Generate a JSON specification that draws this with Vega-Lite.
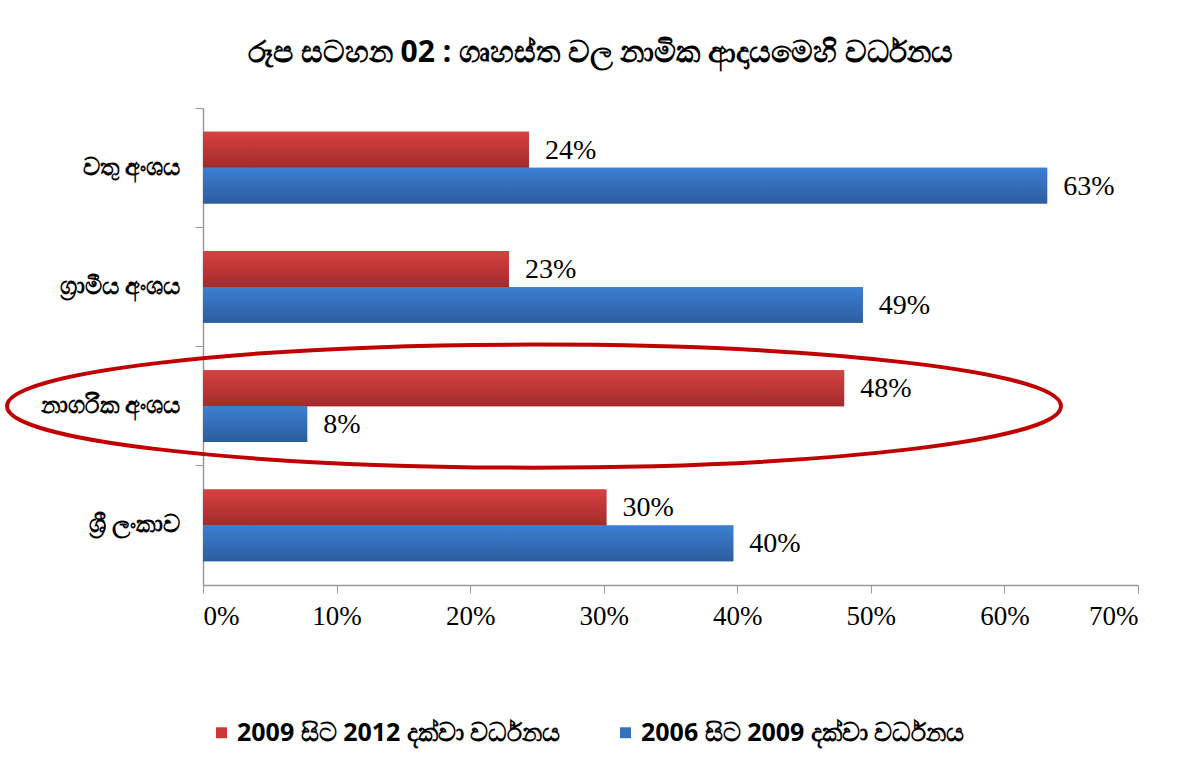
{
  "$schema": "https://vega.github.io/schema/vega-lite/v6.json",
  "width": 935,
  "height": 477,
  "autosize": {"type": "none"},
  "padding": {"left": 203, "top": 108, "right": 62, "bottom": 180},
  "background": "white",
  "config": {"view": {"stroke": null}},
  "title": {
    "text": "රූප සටහන 02 :  ගෘහස්ත වල නාමික ආදායමෙහි වර්ධනය",
    "font": "Noto Sans",
    "fontSize": 30,
    "fontWeight": "bold",
    "color": "black",
    "anchor": "middle",
    "dx": -70,
    "offset": 40
  },
  "datasets": {
    "bars": [
      {"cat": "වතු අංශය", "series": "2009 සිට 2012 දක්වා වර්ධනය", "value": 0.244},
      {"cat": "වතු අංශය", "series": "2006 සිට 2009 දක්වා වර්ධනය", "value": 0.632},
      {"cat": "ග්‍රාමීය අංශය", "series": "2009 සිට 2012 දක්වා වර්ධනය", "value": 0.229},
      {"cat": "ග්‍රාමීය අංශය", "series": "2006 සිට 2009 දක්වා වර්ධනය", "value": 0.494},
      {"cat": "නාගරික අංශය", "series": "2009 සිට 2012 දක්වා වර්ධනය", "value": 0.480},
      {"cat": "නාගරික අංශය", "series": "2006 සිට 2009 දක්වා වර්ධනය", "value": 0.078},
      {"cat": "ශ්‍රී ලංකාව", "series": "2009 සිට 2012 දක්වා වර්ධනය", "value": 0.302},
      {"cat": "ශ්‍රී ලංකාව", "series": "2006 සිට 2009 දක්වා වර්ධනය", "value": 0.397}
    ],
    "highlight": [
      {"cat": "නාගරික අංශය", "value": 0.2478}
    ]
  },
  "layer": [
    {
      "data": {"name": "bars"},
      "mark": {"type": "bar"},
      "encoding": {
        "y": {
          "field": "cat", "type": "nominal",
          "sort": ["වතු අංශය", "ග්‍රාමීය අංශය", "නාගරික අංශය", "ශ්‍රී ලංකාව"],
          "scale": {"paddingInner": 0, "paddingOuter": 0},
          "axis": {
            "title": null,
            "bandPosition": 0,
            "tickSize": 8,
            "tickColor": "#999999",
            "domainColor": "#999999",
            "domainWidth": 1.5,
            "labelFont": "Noto Sans",
            "labelFontSize": 24,
            "labelFontWeight": "bold",
            "labelColor": "black",
            "labelPadding": 15,
            "labelLimit": 300,
            "grid": false
          }
        },
        "yOffset": {
          "field": "series", "type": "nominal",
          "sort": ["2009 සිට 2012 දක්වා වර්ධනය", "2006 සිට 2009 දක්වා වර්ධනය"],
          "scale": {"paddingInner": 0, "paddingOuter": 0.667}
        },
        "x": {
          "field": "value", "type": "quantitative",
          "scale": {"domain": [0, 0.7], "nice": false},
          "axis": {
            "title": null,
            "format": ".0%",
            "values": [0, 0.1, 0.2, 0.3, 0.4, 0.5, 0.6, 0.7],
            "grid": false,
            "tickSize": 8,
            "tickColor": "#999999",
            "domainColor": "#999999",
            "domainWidth": 1.5,
            "labelFont": "Liberation Serif",
            "labelFontSize": 27,
            "labelColor": "black",
            "labelPadding": 10
          }
        },
        "color": {
          "field": "series", "type": "nominal",
          "sort": ["2009 සිට 2012 දක්වා වර්ධනය", "2006 සිට 2009 දක්වා වර්ධනය"],
          "scale": {
            "domain": ["2009 සිට 2012 දක්වා වර්ධනය", "2006 සිට 2009 දක්වා වර්ධනය"],
            "range": ["#c63a3a", "#3670bb"]
          },
          "legend": {
            "title": null,
            "orient": "none",
            "direction": "horizontal",
            "legendX": 6,
            "legendY": 612,
            "symbolType": "square",
            "symbolSize": 120,
            "symbolStrokeWidth": 0,
            "labelFont": "Noto Sans",
            "labelFontSize": 25,
            "labelFontWeight": "bold",
            "labelColor": "black",
            "labelLimit": 600,
            "labelOffset": 3,
            "columnPadding": 52
          }
        }
      }
    },
    {
      "data": {"name": "bars"},
      "mark": {"type": "bar"},
      "encoding": {
        "y": {"field": "cat", "type": "nominal", "sort": ["වතු අංශය", "ග්‍රාමීය අංශය", "නාගරික අංශය", "ශ්‍රී ලංකාව"]},
        "yOffset": {"field": "series", "type": "nominal", "sort": ["2009 සිට 2012 දක්වා වර්ධනය", "2006 සිට 2009 දක්වා වර්ධනය"]},
        "x": {"field": "value", "type": "quantitative"},
        "fill": {
          "condition": {
            "test": "datum.series === '2009 සිට 2012 දක්වා වර්ධනය'",
            "value": {"gradient": "linear", "x1": 0, "y1": 0, "x2": 0, "y2": 1, "stops": [{"offset": 0, "color": "#d64141"}, {"offset": 1, "color": "#a32b2b"}]}
          },
          "value": {"gradient": "linear", "x1": 0, "y1": 0, "x2": 0, "y2": 1, "stops": [{"offset": 0, "color": "#3c7fd2"}, {"offset": 1, "color": "#2c5d9e"}]}
        }
      }
    },
    {
      "data": {"name": "bars"},
      "mark": {"type": "text", "align": "left", "baseline": "middle", "dx": 16, "dy": 1, "font": "Liberation Serif", "fontSize": 28, "color": "black"},
      "encoding": {
        "y": {"field": "cat", "type": "nominal", "sort": ["වතු අංශය", "ග්‍රාමීය අංශය", "නාගරික අංශය", "ශ්‍රී ලංකාව"]},
        "yOffset": {"field": "series", "type": "nominal", "sort": ["2009 සිට 2012 දක්වා වර්ධනය", "2006 සිට 2009 දක්වා වර්ධනය"]},
        "x": {"field": "value", "type": "quantitative"},
        "text": {"field": "value", "type": "quantitative", "format": ".0%"}
      }
    },
    {
      "data": {"name": "highlight"},
      "mark": {
        "type": "point",
        "filled": false,
        "stroke": "#c00000",
        "strokeWidth": 4,
        "opacity": 1,
        "size": 1110916,
        "shape": "M -1 0 C -1 -0.0645 -0.5523 -0.1167 0 -0.1167 C 0.5523 -0.1167 1 -0.0645 1 0 C 1 0.0645 0.5523 0.1167 0 0.1167 C -0.5523 0.1167 -1 0.0645 -1 0 Z"
      },
      "encoding": {
        "y": {"field": "cat", "type": "nominal", "sort": ["වතු අංශය", "ග්‍රාමීය අංශය", "නාගරික අංශය", "ශ්‍රී ලංකාව"]},
        "x": {"field": "value", "type": "quantitative"}
      }
    }
  ]
}
